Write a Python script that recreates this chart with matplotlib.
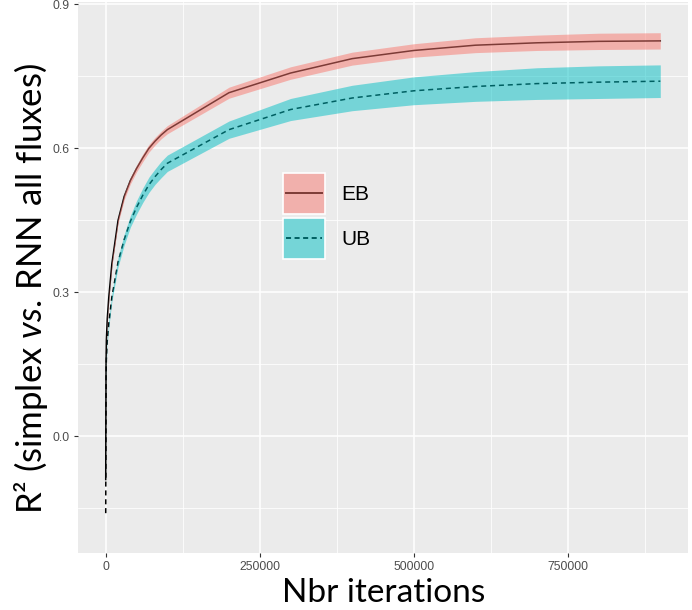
import matplotlib
matplotlib.use("Agg")
import matplotlib.pyplot as plt
from matplotlib.patches import Rectangle
from matplotlib.lines import Line2D
from matplotlib.legend_handler import HandlerBase
from matplotlib.ticker import MultipleLocator

# iterations at which R2 was evaluated
iterations = [0, 500, 1000, 2500, 5000, 10000, 20000, 30000, 40000, 50000,
              60000, 70000, 80000, 90000, 100000, 200000, 300000, 400000,
              500000, 600000, 700000, 800000, 900000]

# EB: mean R2 and half width of the band
eb_mean = [-0.09, 0.15, 0.20, 0.245, 0.29, 0.36, 0.45, 0.50, 0.533, 0.558,
           0.580, 0.600, 0.615, 0.628, 0.639, 0.716, 0.757, 0.787,
           0.804, 0.815, 0.820, 0.823, 0.824]
eb_half = [0.003, 0.004, 0.004, 0.005, 0.005, 0.006, 0.006, 0.007, 0.007, 0.007,
           0.008, 0.008, 0.008, 0.008, 0.0085, 0.0115, 0.013, 0.0135,
           0.014, 0.0155, 0.016, 0.017, 0.017]

# UB
ub_mean = [-0.16, 0.12, 0.16, 0.20, 0.235, 0.29, 0.363, 0.41, 0.448, 0.477,
           0.502, 0.524, 0.541, 0.556, 0.569, 0.639, 0.681, 0.705,
           0.720, 0.729, 0.735, 0.738, 0.740]
ub_half = [0.003, 0.004, 0.005, 0.006, 0.007, 0.008, 0.010, 0.011, 0.012, 0.014,
           0.015, 0.016, 0.016, 0.017, 0.017, 0.018, 0.023, 0.0265,
           0.029, 0.031, 0.033, 0.034, 0.034]

labels = ["EB", "UB"]
y_ticks = [0.0, 0.3, 0.6, 0.9]
x_ticks = [0, 250000, 500000, 750000]

red = "#F8766D"
teal = "#00BFC4"


class KeyHandler(HandlerBase):
    # ggplot-like legend key: filled box with the line through its middle
    def create_artists(self, legend, orig_handle, xdescent, ydescent,
                       width, height, fontsize, trans):
        fill, line_color, ls = orig_handle
        x0, y0 = -xdescent, -ydescent
        box = Rectangle((x0, y0), width, height, facecolor=fill,
                        edgecolor="white", lw=1.2, transform=trans)
        ln = Line2D([x0 + 2, x0 + width - 2], [y0 + height / 2] * 2,
                    color=line_color, lw=1.4, ls=ls, transform=trans)
        return [box, ln]


plt.rcParams["mathtext.fontset"] = "custom"
plt.rcParams["mathtext.rm"] = "Lato"
plt.rcParams["mathtext.it"] = "Lato:italic"

fig = plt.figure(figsize=(6.92, 6.10), dpi=100)
ax = fig.add_axes([78 / 692, 1 - 553 / 610, 610 / 692, 551 / 610])
ax.set_facecolor("#EBEBEB")

# lines under the ribbons, like in the ggplot output
ax.plot(iterations, eb_mean, color="black", lw=1.1, zorder=2)
ax.plot(iterations, ub_mean, color="black", lw=1.1, ls=(0, (3.3, 2.5)), zorder=2)
ax.fill_between(iterations, [m - h for m, h in zip(eb_mean, eb_half)],
                [m + h for m, h in zip(eb_mean, eb_half)],
                color=red, alpha=0.5, lw=0, zorder=3)
ax.fill_between(iterations, [m - h for m, h in zip(ub_mean, ub_half)],
                [m + h for m, h in zip(ub_mean, ub_half)],
                color=teal, alpha=0.5, lw=0, zorder=3)

ax.set_xlim(-45000, 945000)
ax.set_ylim(-0.243, 0.905)
ax.set_xticks(x_ticks)
ax.set_xticklabels([str(t) for t in x_ticks])
ax.set_yticks(y_ticks)
ax.set_yticklabels([f"{t:.1f}" for t in y_ticks])
ax.xaxis.set_minor_locator(MultipleLocator(125000))
ax.yaxis.set_minor_locator(MultipleLocator(0.15))
ax.grid(which="major", color="white", lw=1.1, zorder=0)
ax.grid(which="minor", color="white", lw=0.55, zorder=0)
ax.set_axisbelow(True)
for s in ax.spines.values():
    s.set_visible(False)
ax.tick_params(which="major", length=3, width=0.8, color="#333333",
               labelsize=8.8, labelcolor="#4D4D4D", pad=3)
ax.tick_params(which="minor", length=0)
for lab in ax.get_xticklabels() + ax.get_yticklabels():
    lab.set_fontfamily("Liberation Sans")

fig.text(384 / 692, 0.003, "Nbr iterations", fontsize=24,
         family="Lato", ha="center", va="bottom")
fig.text(31.5 / 692, 1 - 288.5 / 610, r"R² (simplex $\mathit{vs.}\,$RNN all fluxes)",
         fontsize=25, family="Lato", rotation=90, ha="center", va="center")

keys = [("#F1B0AC", "#7C3B36", "-"), ("#75D5D7", "#006062", (0, (2.6, 1.8)))]
ax.legend(keys, labels, handler_map={tuple: KeyHandler()},
          loc="upper left", bbox_to_anchor=(0.336, 0.690),
          frameon=False, borderpad=0, borderaxespad=0,
          handlelength=2.02, handleheight=2.65, labelspacing=0.19,
          handletextpad=0.77, prop={"family": "Liberation Sans", "size": 15})

fig.savefig("out.png", dpi=100)
